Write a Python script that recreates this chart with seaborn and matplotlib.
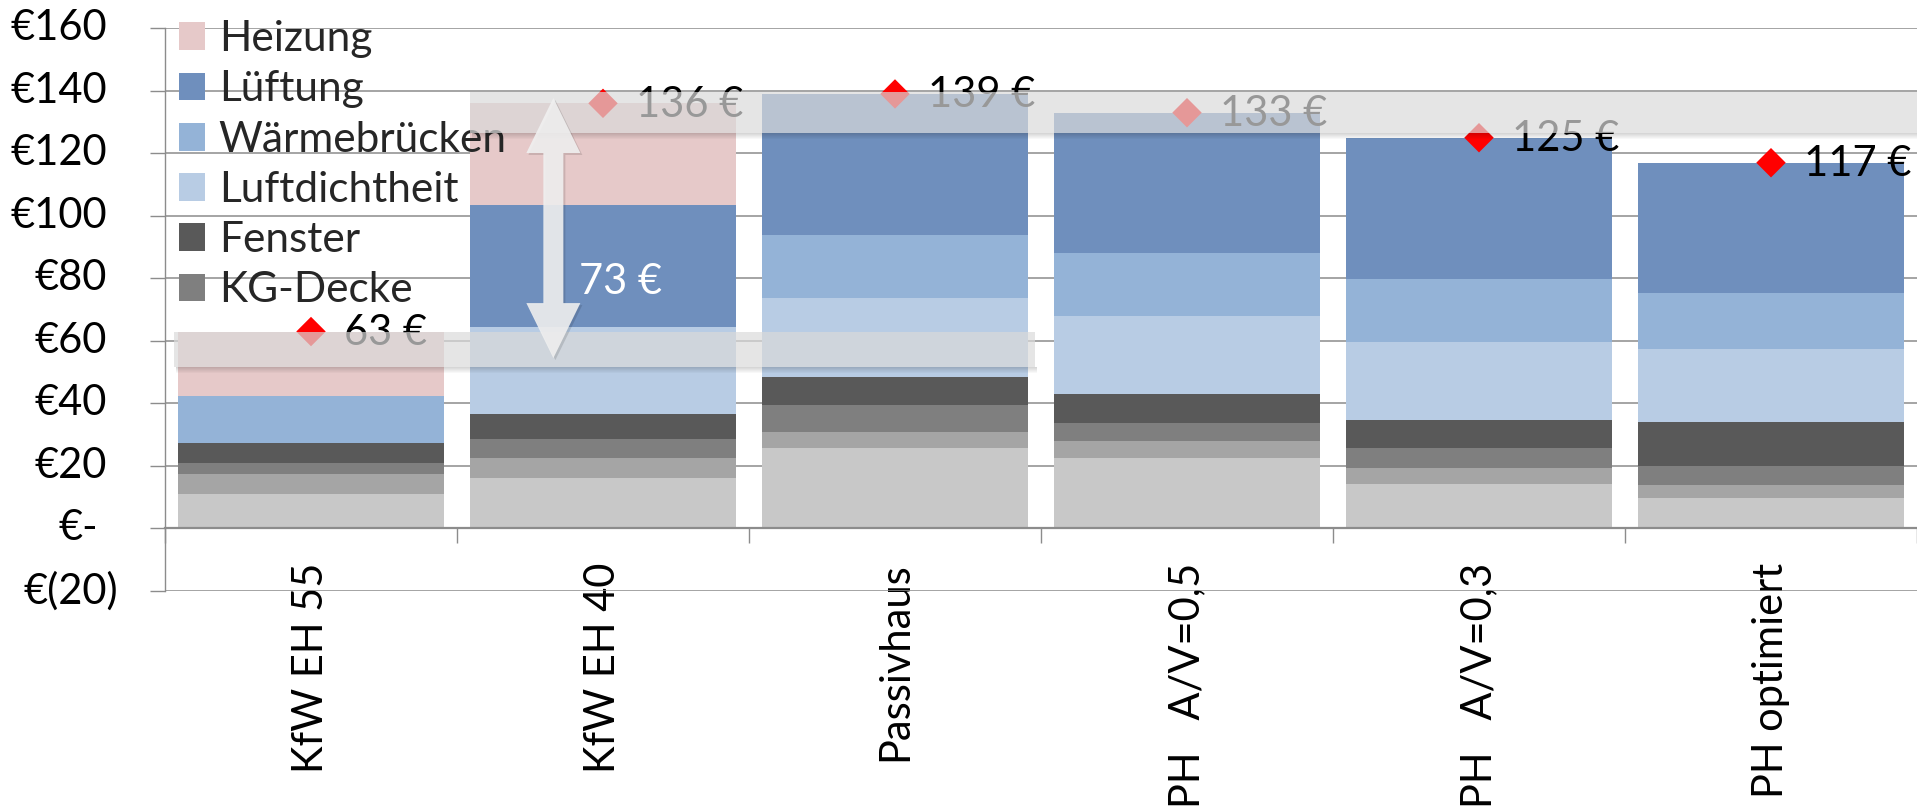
import numpy as np
import pandas as pd
import matplotlib
matplotlib.use("Agg")
import matplotlib.pyplot as plt
import seaborn as sns
from matplotlib.patches import Patch, Rectangle, Polygon

# ---------------------------------------------------------------- data
categories = ["KfW EH 55", "KfW EH 40", "Passivhaus",
              "PH   A/V=0,5", "PH   A/V=0,3", "PH optimiert"]

# cost components per house standard (EUR), stacked bottom -> top
aussenwand = [11.1, 16.2, 25.7, 22.5, 14.3, 9.7]
dach = [6.3, 6.3, 5.1, 5.4, 5.2, 4.2]
kg_decke = [3.5, 6.1, 8.7, 6.0, 6.2, 6.0]
fenster = [6.4, 7.9, 9.0, 9.1, 9.0, 14.2]
luftdichtheit = [0.0, 28.0, 25.1, 25.0, 24.9, 23.3]
waermebruecken = [15.0, 0.0, 20.3, 20.0, 20.2, 17.9]
lueftung = [0.0, 39.0, 45.1, 45.0, 45.2, 41.7]
heizung = [20.7, 32.5, 0.0, 0.0, 0.0, 0.0]

layer_names = ["Außenwand", "Dach", "KG-Decke", "Fenster",
               "Luftdichtheit", "Wärmebrücken", "Lüftung", "Heizung"]
layer_values = [aussenwand, dach, kg_decke, fenster,
                luftdichtheit, waermebruecken, lueftung, heizung]
layer_colors = ["#c8c8c8", "#a5a5a5", "#7f7f7f", "#595959",
                "#b8cce4", "#94b3d7", "#6f8fbd", "#e6c9c9"]
legend_names = ["Heizung", "Lüftung", "Wärmebrücken",
                "Luftdichtheit", "Fenster", "KG-Decke"]

y_ticks = [-20, 0, 20, 40, 60, 80, 100, 120, 140, 160]
y_tick_labels = ["€(20)", "€-", "€20", "€40", "€60", "€80",
                 "€100", "€120", "€140", "€160"]

# ---------------------------------------------------------------- figure
sns.set_theme(style="white")
plt.rcParams["font.family"] = ["Lato", "DejaVu Sans"]

FW, FH, DPI = 1917, 807, 100
fig = plt.figure(figsize=(FW / DPI, FH / DPI), dpi=DPI)
ax_l, ax_r, ax_t, ax_b = 165, 1917, 28.3, 591   # axes box in pixels
ax = fig.add_axes([ax_l / FW, 1 - ax_b / FH, (ax_r - ax_l) / FW, (ax_b - ax_t) / FH])

df = pd.DataFrame({"Kategorie": categories})
for name, vals in zip(layer_names, layer_values):
    df[name] = vals
cum = df[layer_names].cumsum(axis=1)
cum["Kategorie"] = categories
totals = df[layer_names].sum(axis=1).to_numpy()

# stacked bars: draw cumulative heights from the top layer downwards
for name, color in reversed(list(zip(layer_names, layer_colors))):
    sns.barplot(data=cum, x="Kategorie", y=name, order=categories,
                color=color, saturation=1, width=0.912, errorbar=None,
                linewidth=0, edgecolor="none", ax=ax, zorder=2)

# total markers and labels
pos = np.arange(len(categories))
sns.scatterplot(x=pos, y=totals, marker="D", s=15 ** 2, color="#ff0000",
                edgecolor="none", linewidth=0, ax=ax, zorder=4, legend=False)
for i, t in enumerate(totals):
    ax.annotate(f"{t:.0f} €", (i, t), xytext=(24, -1), textcoords="offset points",
                ha="left", va="center", fontsize=30, color="black", zorder=5)

# ---------------------------------------------------------------- axes
ax.set_xlim(-0.5, 5.5)
ax.set_ylim(-20, 160)
grid_c = "#8c8c8c"
ax.set_axisbelow(True)
ax.yaxis.grid(True, color=grid_c, linewidth=1.1)
ax.xaxis.grid(False)
for s in ["top", "right"]:
    ax.spines[s].set_visible(False)
ax.spines["left"].set_color(grid_c)
ax.spines["left"].set_linewidth(1.0)
ax.spines["bottom"].set_position(("data", 0))
ax.spines["bottom"].set_color(grid_c)
ax.spines["bottom"].set_linewidth(1.6)

ax.set_yticks(y_ticks)
ax.set_yticklabels([])
ax.tick_params(axis="y", which="major", direction="out", length=10.8,
               width=1.0, color=grid_c, left=True)
ytrans = ax.get_yaxis_transform()
axw = ax_r - ax_l
for v, lab in zip(y_ticks, y_tick_labels):
    right_px = 107
    if v < 0:
        right_px = 118.6
    elif v == 0:
        right_px = 98
    ax.text((right_px - ax_l) / axw, v, lab, transform=ytrans, ha="right",
            va="center", fontsize=30, color="black")

ax.set_xticks(pos)
ax.set_xticklabels(categories, rotation=90, fontsize=30, color="black")
ax.set_xticks(np.arange(-0.5, 6, 1), minor=True)
ax.tick_params(axis="x", which="major", length=0, pad=24.5, bottom=True)
ax.tick_params(axis="x", which="minor", direction="out", length=10.5,
               width=1.0, color=grid_c, bottom=True)
ax.set_xlabel("")
ax.set_ylabel("")

# ---------------------------------------------------------------- legend
handles = [Patch(facecolor=layer_colors[layer_names.index(n)], edgecolor="none")
           for n in legend_names]
ax.legend(handles, legend_names, loc="upper left",
          bbox_to_anchor=(178.6 / FW, 1 - 20 / FH), bbox_transform=fig.transFigure,
          frameon=False, fontsize=30.5, handlelength=0.63, handleheight=0.63,
          handletextpad=0.32, labelspacing=0.29, borderpad=0, borderaxespad=0)

# ---------------------------------------------------------------- highlight bands
px_y = 180 / (ax_b - ax_t)      # data units per pixel (y)
px_x = 6 / axw                  # data units per pixel (x)


def band(x0, x1, y0, y1):
    ax.add_patch(Rectangle((x0, y0), x1 - x0, y1 - y0, facecolor="#dadada",
                           edgecolor="none", alpha=0.7, zorder=6))
    for k in range(6):
        ax.add_patch(Rectangle((x0 + 2 * px_x, y0 - (k + 1) * px_y), x1 - x0,
                               px_y, facecolor="black", edgecolor="none",
                               alpha=0.16 * (6 - k) / 6, zorder=6))


band(-0.47, 2.48, totals[0] - 11.3, totals[0] - 0.2)
band(0.545, 5.6, totals[2] - 12.4, totals[2] + 0.5)

# ---------------------------------------------------------------- difference arrow
xc = 0.83
top, bot = totals[1] + 1.7, totals[0] - 8.5
hw, sw, hl = 27 * px_x, 10 * px_x, 55 * px_y
arrow_pts = np.array([
    (xc, top), (xc + hw, top - hl), (xc + sw, top - hl), (xc + sw, bot + hl),
    (xc + hw, bot + hl), (xc, bot), (xc - hw, bot + hl), (xc - sw, bot + hl),
    (xc - sw, top - hl), (xc - hw, top - hl)])
shadow = arrow_pts + np.array([2 * px_x, -2 * px_y])
ax.add_patch(Polygon(shadow, closed=True, facecolor="black", edgecolor="none",
                     alpha=0.12, zorder=7))
ax.add_patch(Polygon(arrow_pts, closed=True, facecolor="#f0f0f0",
                     edgecolor="none", alpha=0.9, zorder=7))
ax.text(0.918, 78.9, f"{totals[1] - totals[0]:.0f} €", ha="left", va="center",
        fontsize=30, color="white", zorder=8)

fig.savefig("out.png", dpi=DPI)
